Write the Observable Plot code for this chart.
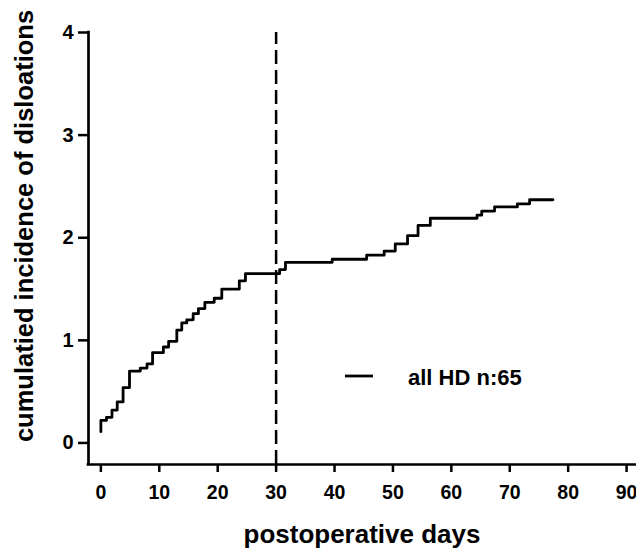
<!DOCTYPE html>
<html>
<head>
<meta charset="utf-8">
<script src="https://cdn.jsdelivr.net/npm/d3@7"></script>
<script src="https://cdn.jsdelivr.net/npm/@observablehq/plot@0.6"></script>
<style>
  html, body { margin: 0; padding: 0; background: #fff; }
  #chart { width: 636px; height: 549px; }
</style>
</head>
<body>
<div id="chart"></div>
<script>
// ---- data ----
const days   = [0, 0, 0.95, 1.9, 2.8, 3.8, 4.9, 6.75, 7.9, 8.85, 10.7, 11.6, 13.0, 13.85, 14.7, 15.8, 16.7, 17.8, 19.4, 20.7, 23.7, 24.75, 30.6, 31.6, 39.6, 45.5, 48.5, 50.4, 52.5, 54.3, 56.4, 64.4, 65.2, 67.4, 71.3, 73.4, 77.4];
const values = [0.11, 0.22, 0.25, 0.32, 0.40, 0.54, 0.70, 0.73, 0.77, 0.88, 0.935, 0.99, 1.10, 1.17, 1.20, 1.26, 1.31, 1.37, 1.41, 1.50, 1.58, 1.65, 1.69, 1.76, 1.79, 1.83, 1.87, 1.94, 2.02, 2.12, 2.19, 2.22, 2.26, 2.30, 2.33, 2.37, 2.37];
const xTicks = [0, 10, 20, 30, 40, 50, 60, 70, 80, 90];
const yTicks = [0, 1, 2, 3, 4];
const cutoffDay = [30];
const xTitle = "postoperative days";
const yTitle = "cumulatied incidence of disloations";
const seriesLabel = "all HD n:65";

const xDomain = [-2.12, 91.7];
const yDomain = [-0.21, 4];

const data = days.map((d, i) => ({day: d, value: values[i]}));

const font = "'Liberation Sans', Arial, Helvetica, sans-serif";

const chart = Plot.plot({
  width: 636,
  height: 549,
  marginLeft: 88,
  marginRight: 0,
  marginTop: 32,
  marginBottom: 85,
  x: {domain: xDomain},
  y: {domain: yDomain},
  style: {fontFamily: font, fontWeight: "bold", color: "black", background: "white", overflow: "visible"},
  marks: [
    Plot.lineY(data, {x: "day", y: "value", curve: "step-after", stroke: "black", strokeWidth: 2.8}),
    Plot.ruleX(cutoffDay, {y1: yDomain[0], y2: yTicks[yTicks.length - 1], stroke: "black", strokeWidth: 2.5, strokeDasharray: "14,6"}),
    Plot.ruleX([xDomain[0]], {y1: yDomain[0], y2: yTicks[yTicks.length - 1], stroke: "black", strokeWidth: 2.7, strokeLinecap: "square"}),
    Plot.ruleY([yDomain[0]], {x1: xDomain[0], x2: xDomain[1], stroke: "black", strokeWidth: 2.7, strokeLinecap: "square"}),
    Plot.axisX({ticks: xTicks, tickFormat: "d", tickSize: 8, tickPadding: 13, fontSize: 19.5, label: null, strokeWidth: 2.5}),
    Plot.axisY({ticks: yTicks, tickFormat: "d", tickSize: 10, tickPadding: 5, fontSize: 20, label: null, strokeWidth: 2.5})
  ]
});

document.getElementById("chart").appendChild(chart);

// titles and legend
const svg = d3.select(chart);
svg.append("text")
  .attr("transform", "translate(33,226) rotate(-90)")
  .attr("text-anchor", "middle")
  .attr("font-family", font).attr("font-weight", "bold").attr("font-size", 25.5)
  .attr("fill", "black")
  .text(yTitle);
svg.append("text")
  .attr("x", 362).attr("y", 543)
  .attr("text-anchor", "middle")
  .attr("font-family", font).attr("font-weight", "bold").attr("font-size", 26)
  .attr("fill", "black")
  .text(xTitle);
svg.append("line")
  .attr("x1", 345).attr("x2", 373).attr("y1", 376).attr("y2", 376)
  .attr("stroke", "black").attr("stroke-width", 2.8);
svg.append("text")
  .attr("x", 408).attr("y", 385)
  .attr("text-anchor", "start")
  .attr("font-family", font).attr("font-weight", "bold").attr("font-size", 22)
  .attr("fill", "black")
  .text(seriesLabel);
</script>
</body>
</html>
